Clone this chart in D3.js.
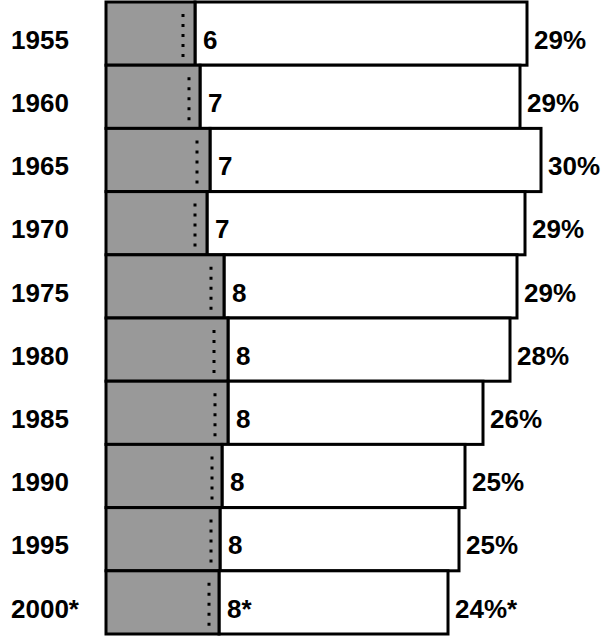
<!DOCTYPE html>
<html>
<head>
<meta charset="utf-8">
<script src="https://cdn.jsdelivr.net/npm/d3@7"></script>
<style>
  body { margin: 0; background: #fff; }
  text { font-family: "Liberation Sans", Arial, sans-serif; font-weight: bold; fill: #000; }
</style>
</head>
<body>
<script>
// rows, top to bottom
let years = ["1955", "1960", "1965", "1970", "1975", "1980", "1985", "1990", "1995", "2000*"];
let grayLabels = ["6", "7", "7", "7", "8", "8", "8", "8", "8", "8*"];
let pctLabels = ["29%", "29%", "30%", "29%", "29%", "28%", "26%", "25%", "25%", "24%*"];
// bar lengths (chart units)
let grayLen = [89, 94, 104, 101, 118, 122, 122, 116, 114, 113];
let totalLen = [421, 414, 435, 419, 411, 404, 377, 359, 353, 342];
let dotLen = [77, 83, 91, 89, 105, 108, 109, 106, 105, 103];

let width = 605, height = 636;

let rows = years.map((y, i) => ({
    year: y, gray: grayLen[i], total: totalLen[i], dot: dotLen[i],
    n: grayLabels[i], pct: pctLabels[i]
}));

let svg = d3.select("body")
    .append("svg")
    .attr("width", width)
    .attr("height", height);

let x = d3.scaleLinear()
    .domain([0, 500])
    .range([106, 606]);

let y = d3.scaleBand()
    .domain(years)
    .range([2, 634]);

let g = svg.selectAll(".row")
    .data(rows)
    .enter()
    .append("g")
    .attr("class", "row");

g.append("rect")
    .attr("x", d => x(d.gray))
    .attr("y", d => y(d.year))
    .attr("width", d => x(d.total) - x(d.gray))
    .attr("height", y.bandwidth())
    .attr("fill", "#fff")
    .attr("stroke", "#000")
    .attr("stroke-width", 3);

g.append("rect")
    .attr("x", x(0))
    .attr("y", d => y(d.year))
    .attr("width", d => x(d.gray) - x(0))
    .attr("height", y.bandwidth())
    .attr("fill", "#999999")
    .attr("stroke", "#000")
    .attr("stroke-width", 3);

g.append("line")
    .attr("x1", d => x(d.dot))
    .attr("x2", d => x(d.dot))
    .attr("y1", d => y(d.year) + 12)
    .attr("y2", d => y(d.year) + 58)
    .attr("stroke", "#000")
    .attr("stroke-width", 3)
    .attr("stroke-dasharray", "3,7");

let mid = d => y(d.year) + y.bandwidth() / 2 + 6;

g.append("text")
    .attr("x", 11)
    .attr("y", mid)
    .attr("dy", "0.35em")
    .attr("font-size", 26)
    .text(d => d.year);

g.append("text")
    .attr("x", d => x(d.gray) + 8)
    .attr("y", mid)
    .attr("dy", "0.35em")
    .attr("font-size", 26)
    .text(d => d.n);

g.append("text")
    .attr("x", d => x(d.total) + 7)
    .attr("y", mid)
    .attr("dy", "0.35em")
    .attr("font-size", 26)
    .text(d => d.pct);
</script>
</body>
</html>
